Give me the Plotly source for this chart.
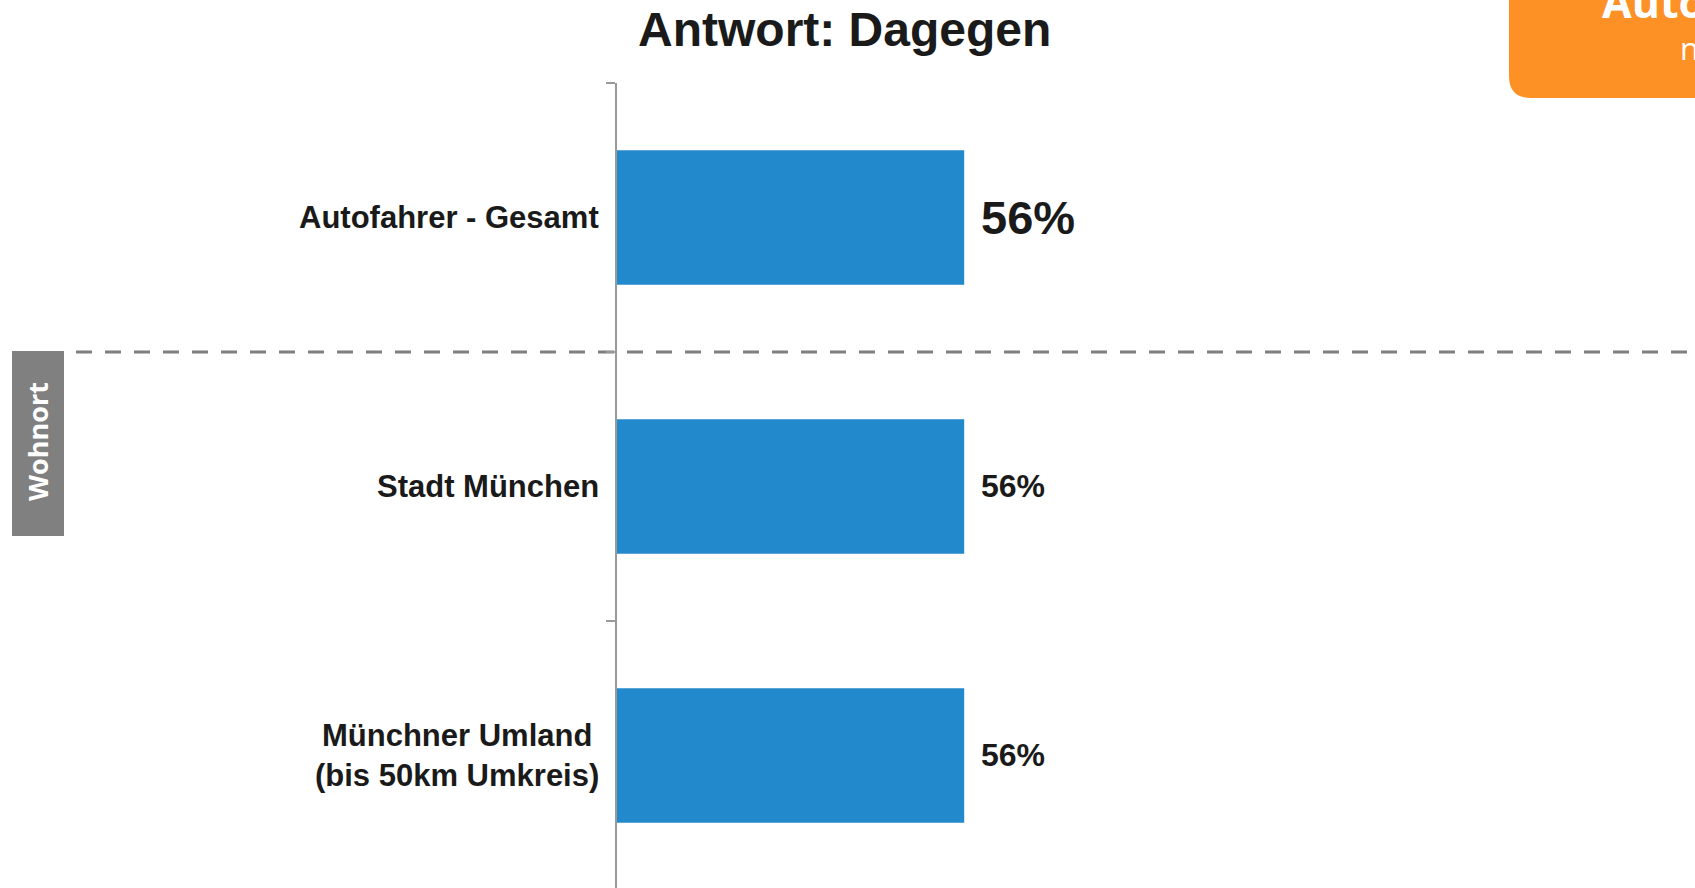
import plotly.graph_objects as go

# --- data ---
categories = ["Autofahrer - Gesamt", "Stadt München", "Münchner Umland<br>(bis 50km Umkreis)"]
values = [56, 56, 56]
value_labels = ["56%", "56%", "56%"]
label_sizes = [47, 32, 32]
title_text = "Antwort: Dagegen"
group_label = "Wohnort"
badge_line1 = "Autofahrer"
badge_line2 = "nach Wohnort"

W, H = 1695, 888
def px(x):
    return x / W
def py(y):
    return 1 - y / H

BAR = "#2389CD"
FONT = "Liberation Sans, Arial, sans-serif"

fig = go.Figure()
fig.add_trace(go.Bar(
    x=values, y=categories, orientation="h",
    marker=dict(color=BAR, line=dict(width=0)),
    hoverinfo="skip", showlegend=False,
))

annotations = []
# category labels
for c in categories:
    annotations.append(dict(
        x=px(601), xref="paper", y=c, yref="y", text=c, showarrow=False,
        xanchor="right", yanchor="middle", align="center",
        font=dict(family=FONT, size=31, color="#1a1a1a", weight="bold"),
    ))
# value labels
for c, v, t, s in zip(categories, values, value_labels, label_sizes):
    annotations.append(dict(
        x=v, xref="x", y=c, yref="y", text=t, showarrow=False,
        xanchor="left", yanchor="middle", xshift=15,
        font=dict(family=FONT, size=s, color="#1a1a1a", weight="bold"),
    ))
# title
annotations.append(dict(
    x=px(844), xref="paper", y=py(30), yref="paper", text=title_text,
    showarrow=False, xanchor="center", yanchor="middle",
    font=dict(family=FONT, size=48, color="#1a1a1a", weight="bold"),
))
# group label
annotations.append(dict(
    x=px(37), xref="paper", y=py(442), yref="paper", text=group_label,
    showarrow=False, xanchor="center", yanchor="middle", textangle=-90,
    font=dict(family="Open Sans, sans-serif", size=27, color="white", weight="bold"),
))
# badge text
annotations.append(dict(
    x=px(1600), xref="paper", y=py(22), yref="paper", text=badge_line1,
    showarrow=False, xanchor="left", yanchor="bottom", yshift=-11,
    font=dict(family="Open Sans, sans-serif", size=43, color="white", weight="bold"),
))
annotations.append(dict(
    x=px(1678), xref="paper", y=py(63), yref="paper", text=badge_line2,
    showarrow=False, xanchor="left", yanchor="bottom", yshift=-8,
    font=dict(family="Open Sans, sans-serif", size=31, color="white"),
))

r = 22
badge_path = (
    f"M {px(1509)},{py(-30)} L {px(1509)},{py(98 - r)} "
    f"Q {px(1509)},{py(98)} {px(1509 + r)},{py(98)} "
    f"L {px(1720)},{py(98)} L {px(1720)},{py(-30)} Z"
)

shapes = [
    dict(type="line", xref="paper", yref="y", x0=px(76), x1=1, y0=0.5, y1=0.5,
         line=dict(color="#7F7F7F", width=3, dash="16px,13px"), layer="below"),
    dict(type="rect", xref="paper", yref="paper", x0=px(12), x1=px(64),
         y0=py(536), y1=py(351), fillcolor="#808080", line=dict(width=0)),
    dict(type="path", xref="paper", yref="paper", path=badge_path,
         fillcolor="#FE9125", line=dict(width=0)),
]

fig.update_layout(
    width=W, height=H,
    margin=dict(l=0, r=0, t=0, b=0),
    paper_bgcolor="white", plot_bgcolor="white",
    bargap=0.5,
    xaxis=dict(domain=[px(617), px(1237)], range=[0, 100], visible=False, fixedrange=True),
    yaxis=dict(domain=[0, py(83)], range=[2.493, -0.5], type="category",
               showticklabels=False, showgrid=False, zeroline=False,
               showline=True, linecolor="#999999", linewidth=2,
               ticks="outside", tickson="boundaries", ticklen=9,
               tickcolor="#999999", tickwidth=2, fixedrange=True),
    annotations=annotations,
    shapes=shapes,
)

fig.write_html(
    "out.html",
    config={"displayModeBar": False},
    post_script="document.body.style.margin='0';document.body.style.overflow='hidden';",
)
